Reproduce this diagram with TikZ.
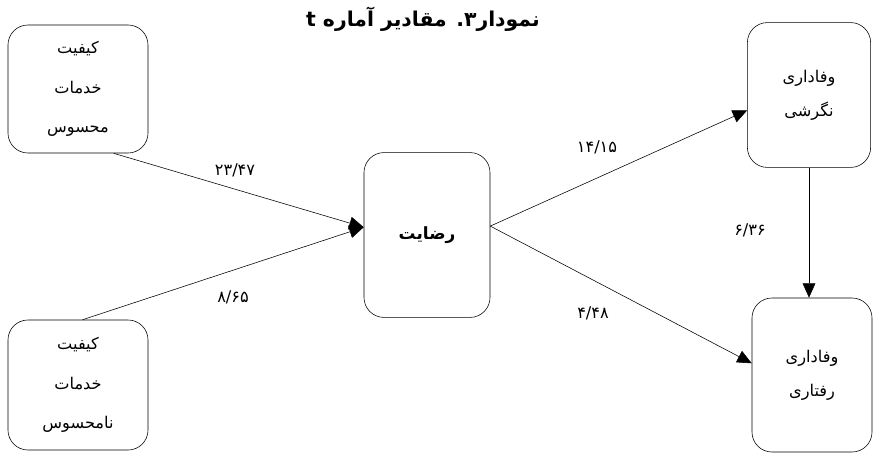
\documentclass[tikz,border=0pt]{standalone}
\usepackage{fontspec}
\newfontfamily\farsi[Script=Arabic]{DejaVu Sans}
\TeXXeTstate=1
\usetikzlibrary{arrows.meta}
\tikzstyle{block} = [draw=black, rectangle, rounded corners=0.5cm, align=center, font=\farsi\fontsize{11.5}{28}\selectfont]
\tikzstyle{blockr} = [block, font=\farsi\fontsize{11.5}{24}\selectfont]
\tikzstyle{num} = [font=\farsi\fontsize{11.5}{13}\selectfont]
\tikzstyle{link} = [->, thin]

\begin{document}
\begin{tikzpicture}[x=0.025cm, y=-0.025cm, >={Triangle[length=0.36cm,width=0.32cm]}]
	\useasboundingbox (0,0) rectangle (873,453);

	\node [font=\farsi\bfseries\fontsize{14.5}{16}\selectfont] (title) at (423,19) {\beginR نمودار۳. مقادیر آماره t\endR};

	\node [block, minimum width=3.5cm, minimum height=3.2cm] (tang) at (78,89) {\beginR کیفیت\endR\\ \beginR خدمات\endR\\ \beginR محسوس\endR};
	\node [block, minimum width=3.5cm, minimum height=3.25cm] (intang) at (78,385) {\beginR کیفیت\endR\\ \beginR خدمات\endR\\ \beginR نامحسوس\endR};
	\node [block, minimum width=3.15cm, minimum height=4.12cm, font=\farsi\bfseries\fontsize{12}{14}\selectfont] (sat) at (427,235) {\beginR رضایت\endR};
	\node [blockr, minimum width=3.08cm, minimum height=3.62cm] (att) at (809,95) {\beginR وفاداری\endR\\ \beginR نگرشی\endR};
	\node [blockr, minimum width=3.0cm, minimum height=3.85cm] (beh) at (812,375) {\beginR وفاداری\endR\\ \beginR رفتاری\endR};

	\draw [link] (tang.-61) -- (sat.173);
	\draw [link] (intang.86) -- (sat.173);
	\draw [link] (sat.8) -- (att.194);
	\draw [link] (sat.8) -- (beh.169);
	\draw [link] (att.south) -- (att.south |- beh.north);

	\node [num] (t1) at (235,170) {۲۳/۴۷};
	\node [num] (t2) at (233,297) {۸/۶۵};
	\node [num] (t3) at (597,147) {۱۴/۱۵};
	\node [num] (t4) at (593,313) {۴/۴۸};
	\node [num] (t5) at (750,230) {۶/۳۶};
\end{tikzpicture}
\end{document}
